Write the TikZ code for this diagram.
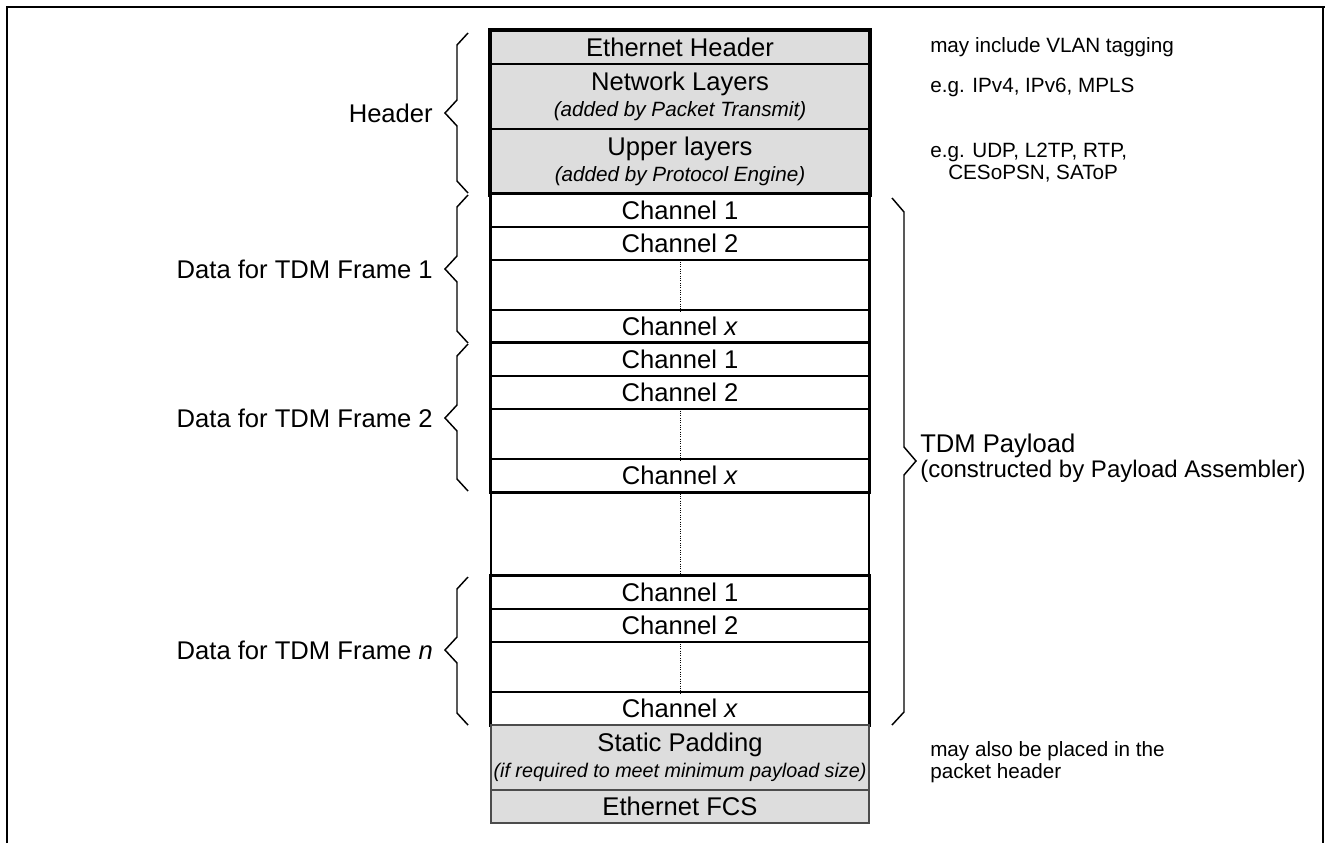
\documentclass[tikz,border=0pt]{standalone}
\usepackage{fontspec}
\setmainfont{Liberation Sans}
\usetikzlibrary{positioning}

\definecolor{pktgray}{RGB}{221,221,221}
\newcommand{\mainsz}{\fontsize{19.2}{22}\selectfont}
\newcommand{\subsz}{\fontsize{15.5}{18}\selectfont\itshape}
\newcommand{\notesz}{\fontsize{15.5}{16.5}\selectfont}

\tikzset{
    hdrrow/.style={draw, fill=pktgray, line width=1.5pt, minimum width=283.5pt, inner sep=0pt, font=\mainsz, align=center},
    chanrow/.style={draw, fill=white, line width=1.1pt, minimum width=283.5pt, minimum height=24.75pt, inner sep=0pt, font=\mainsz},
    ftrrow/.style={draw=black!70, fill=pktgray, line width=1pt, minimum width=283.5pt, inner sep=0pt, font=\mainsz, align=center},
    grpbox/.style={draw, line width=2.3pt},
    zbrace/.style={line width=1.1pt, line join=miter},
    sidetxt/.style={anchor=west, font=\notesz, align=left, inner sep=0pt},
    grptxt/.style={anchor=east, font=\mainsz, inner sep=0pt},
    dotline/.style={line width=0.75pt, dash pattern=on 0.75pt off 1pt}
}

\begin{document}
\begin{tikzpicture}[x=0.75pt, y=-0.75pt]
    \useasboundingbox (0,0) rectangle (1326,843);
    % outer frame
    \draw[line width=2pt] (7,843) -- (7,7) -- (1325,7);
    \draw[line width=1.1pt] (1323,7) -- (1323,843);

    % packet header
    \node[hdrrow, minimum height=24.75pt] (eth) at (680,47.5) {Ethernet Header};
    \node[hdrrow, minimum height=48.75pt] (net) at (680,96.5) {Network Layers\\[-2.5pt]{\subsz (added by Packet Transmit)}};
    \node[hdrrow, minimum height=48.75pt] (up) at (680,161.5) {Upper layers\\[-2.5pt]{\subsz (added by Protocol Engine)}};
    \draw[grpbox] (eth.north west) rectangle (up.south east);

    % TDM frames
    \foreach \f/\y in {fa/194, fb/343, fn/576} {
        \node[chanrow] (\f-c1) at (680,\y+16.5) {Channel 1};
        \node[chanrow] (\f-c2) at (680,\y+49.5) {Channel 2};
        \node[chanrow, minimum height=37.5pt] (\f-dots) at (680,\y+91) {};
        \node[chanrow] (\f-cx) at (680,\y+132.5) {Channel \textit{x}};
        \draw[dotline] (\f-dots.north) -- (\f-dots.south);
        \draw[grpbox] (\f-c1.north west) rectangle (\f-cx.south east);
    }
    \node[chanrow, minimum height=63pt] (gap) at (680,534) {};
    \draw[dotline] (gap.north) -- (gap.south);
    \draw[grpbox] (fb-c1.north west) rectangle (fb-cx.south east);
    \draw[grpbox] (fn-c1.north west) rectangle (fn-cx.south east);

    % trailer
    \node[ftrrow, minimum height=48.75pt] (pad) at (680,757.5) {Static Padding\\[-2.5pt]\makebox[0pt]{\fontsize{14.8}{18}\selectfont\itshape (if required to meet minimum payload size)}};
    \node[ftrrow, minimum height=24.75pt] (fcs) at (680,806.5) {Ethernet FCS};

    % braces
    \foreach \t/\m/\b in {33/113/193, 195/269/343, 344/418/491, 577/650/725}
        \draw[zbrace] (468,\t) -- (457,\t+12) -- (457,\m-13) -- (445,\m) -- (457,\m+13) -- (457,\b-12) -- (468,\b);
    \draw[zbrace] (892,198) -- (904,212) -- (904,447) -- (916,461) -- (904,475) -- (904,712) -- (892,725);

    % labels
    \node[grptxt] (lhdr) at (433,113) {Header};
    \node[grptxt] (lfa) at (433,269) {Data for TDM Frame 1};
    \node[grptxt] (lfb) at (433,418) {Data for TDM Frame 2};
    \node[grptxt] (lfn) at (433,650) {Data for TDM Frame \textit{n}};
    \node[grptxt, anchor=west] (pay) at (920,446) {TDM Payload};
    \node[sidetxt, font=\fontsize{18}{20}\selectfont] (paynote) at (920,471) {(constructed by Payload Assembler)};

    % notes
    \node[sidetxt] (neth) at (930,47) {may include VLAN tagging};
    \node[sidetxt] (nnet) at (930,87) {e.g. IPv4, IPv6, MPLS};
    \node[sidetxt] (nup) at (930,163) {e.g. UDP, L2TP, RTP,\\\hspace*{13.5pt}CESoPSN, SAToP};
    \node[sidetxt] (npad) at (930,762) {may also be placed in the\\packet header};
\end{tikzpicture}
\end{document}
